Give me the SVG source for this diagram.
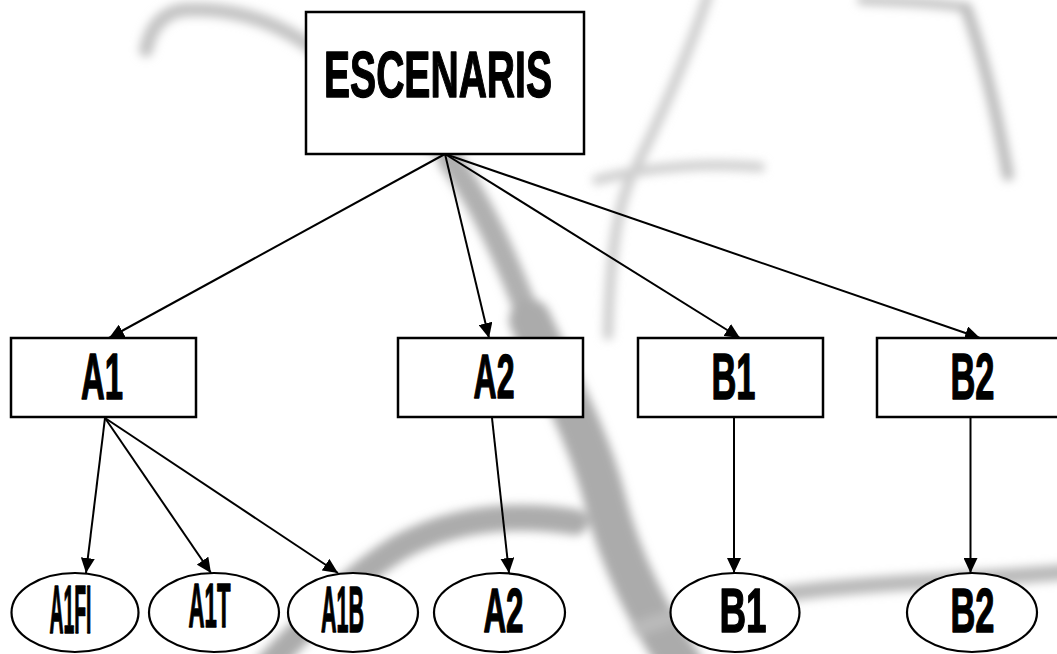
<svg xmlns="http://www.w3.org/2000/svg" width="1057" height="654" viewBox="0 0 1057 654">
<style>
.box{fill:#fff;stroke:#000;stroke-width:2.5}
.ell{fill:#fff;stroke:#000;stroke-width:2.2}
.lbl{font-family:"Liberation Sans Narrow","Liberation Sans",Arial,sans-serif;font-weight:bold;fill:#000;stroke:#000;stroke-width:1.4;stroke-linejoin:round}
.con{stroke:#000;stroke-width:2;fill:none;marker-end:url(#ah)}
.br{fill:none;stroke-linecap:round;stroke-linejoin:round}
</style>
<defs>
<marker id="ah" viewBox="0 0 15 14" refX="15" refY="7" markerWidth="15" markerHeight="14" markerUnits="userSpaceOnUse" orient="auto">
<path d="M0,0 L15,7 L0,14 z" fill="#000"/>
</marker>
<filter id="blur" x="-10%" y="-10%" width="120%" height="120%">
<feGaussianBlur stdDeviation="5"/>
</filter>
</defs>
<rect width="1057" height="654" fill="#fff"/>
<g id="background" filter="url(#blur)">
<path class="br" stroke="#c4c4c4" stroke-width="14" d="M146,50 C150,30 160,14 182,10 C240,6 290,25 340,70 C380,105 420,135 450,160"/>
<path class="br" stroke="#b0b0b0" stroke-width="24" d="M450,160 C480,200 505,255 530,320"/>
<path class="br" stroke="#ababab" stroke-width="42" d="M530,320 C560,385 590,440 605,500 C620,560 650,620 682,665"/>
<path class="br" stroke="#acacac" stroke-width="26" d="M268,665 C310,622 350,577 400,547 C450,520 510,512 575,522"/>
<path class="br" stroke="#bababa" stroke-width="16" d="M640,628 C700,606 780,592 860,586 C940,580 1000,578 1065,572"/>
<path class="br" stroke="#cccccc" stroke-width="10" d="M708,-5 C690,50 660,120 632,175 C616,210 610,260 608,335"/>
<path class="br" stroke="#cfcfcf" stroke-width="10" d="M597,180 C650,166 710,163 760,167"/>
<path class="br" stroke="#c6c6c6" stroke-width="10" d="M862,0 C900,2 940,2 966,8"/>
<path class="br" stroke="#bdbdbd" stroke-width="12" d="M966,8 C985,60 998,120 1008,175"/>
</g>
<g id="connectors">
<line class="con" x1="445" y1="154" x2="109" y2="338"/>
<line class="con" x1="445" y1="154" x2="489" y2="338"/>
<line class="con" x1="445" y1="154" x2="740" y2="338"/>
<line class="con" x1="445" y1="154" x2="980" y2="338"/>
<line class="con" x1="105" y1="418" x2="86" y2="573"/>
<line class="con" x1="105" y1="418" x2="211" y2="573"/>
<line class="con" x1="105" y1="418" x2="338" y2="573"/>
<line class="con" x1="492" y1="418" x2="509" y2="573"/>
<line class="con" x1="734" y1="418" x2="734" y2="573"/>
<line class="con" x1="970.5" y1="418" x2="970.5" y2="573"/>
</g>
<g id="escenaris">
<rect class="box" x="306" y="12" width="278" height="142"/>
<text class="lbl" x="324" y="97" font-size="65" textLength="228" lengthAdjust="spacingAndGlyphs">ESCENARIS</text>
</g>
<g id="box-a1">
<rect class="box" x="11" y="338" width="185" height="79"/>
<text class="lbl" x="81" y="398.5" font-size="64" textLength="42" lengthAdjust="spacingAndGlyphs">A1</text>
</g>
<g id="box-a2">
<rect class="box" x="398" y="338" width="185" height="79"/>
<text class="lbl" x="473.5" y="398" font-size="63" textLength="41" lengthAdjust="spacingAndGlyphs">A2</text>
</g>
<g id="box-b1">
<rect class="box" x="638" y="338" width="185" height="79"/>
<text class="lbl" x="711.5" y="398.5" font-size="64" textLength="44" lengthAdjust="spacingAndGlyphs">B1</text>
</g>
<g id="box-b2">
<rect class="box" x="877" y="338" width="186" height="79"/>
<text class="lbl" x="950.5" y="398.5" font-size="64" textLength="44" lengthAdjust="spacingAndGlyphs">B2</text>
</g>
<g id="ell-a1fi">
<ellipse class="ell" cx="75" cy="612.5" rx="63.5" ry="39.5"/>
<text class="lbl" x="49.5" y="632.5" font-size="68" textLength="42" lengthAdjust="spacingAndGlyphs">A1FI</text>
</g>
<g id="ell-a1t">
<ellipse class="ell" cx="214" cy="612.5" rx="65" ry="39.5"/>
<text class="lbl" x="188.5" y="627" font-size="63" textLength="42" lengthAdjust="spacingAndGlyphs">A1T</text>
</g>
<g id="ell-a1b">
<ellipse class="ell" cx="353" cy="612.5" rx="65" ry="39.5"/>
<text class="lbl" x="321" y="632" font-size="64" textLength="43" lengthAdjust="spacingAndGlyphs">A1B</text>
</g>
<g id="ell-a2">
<ellipse class="ell" cx="499.5" cy="612.5" rx="65.5" ry="39.5"/>
<text class="lbl" x="483.5" y="632" font-size="63" textLength="40" lengthAdjust="spacingAndGlyphs">A2</text>
</g>
<g id="ell-b1">
<ellipse class="ell" cx="735" cy="612.5" rx="64.5" ry="39.5"/>
<text class="lbl" x="719.5" y="632" font-size="63" textLength="47" lengthAdjust="spacingAndGlyphs">B1</text>
</g>
<g id="ell-b2">
<ellipse class="ell" cx="972" cy="612.5" rx="65" ry="39.5"/>
<text class="lbl" x="950.5" y="632" font-size="63" textLength="44" lengthAdjust="spacingAndGlyphs">B2</text>
</g>
</svg>
